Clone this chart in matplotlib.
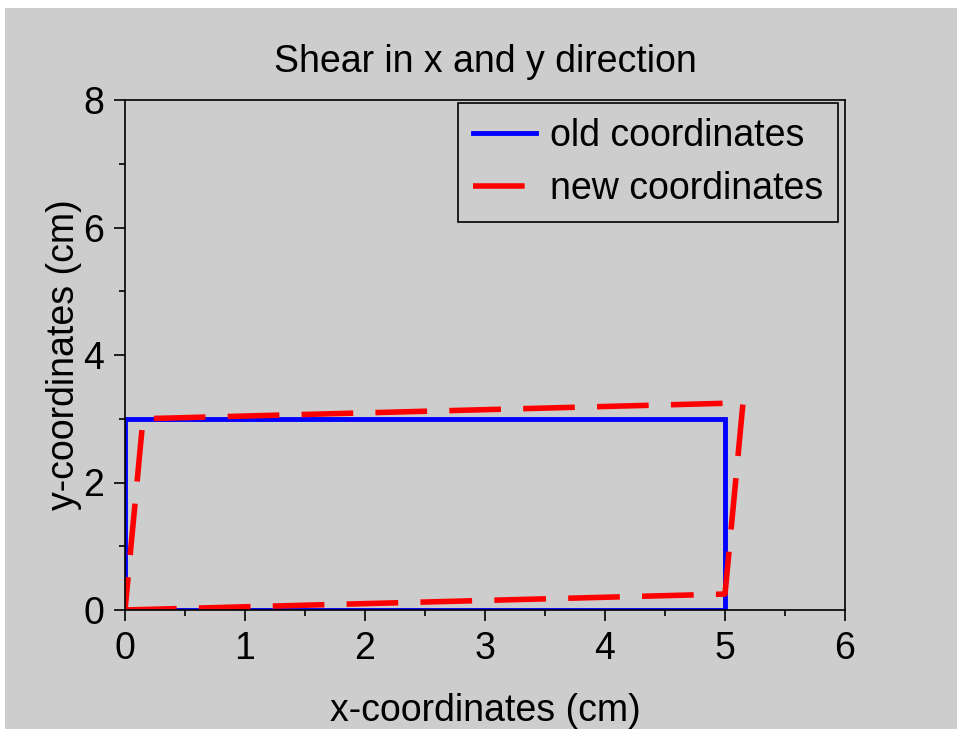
import matplotlib
matplotlib.use("Agg")
import matplotlib.pyplot as plt
from matplotlib.patches import Rectangle
from matplotlib.ticker import MultipleLocator

# Rectangle corners before the transformation
old_x = [0, 5, 5, 0, 0]
old_y = [0, 0, 3, 3, 0]
# Same corners after shearing in x and y
new_x = [0, 5, 5.15, 0.15, 0]
new_y = [0, 0.25, 3.25, 3, 0]

title = "Shear in x and y direction"
xlabel = "x-coordinates (cm)"
ylabel = "y-coordinates (cm)"
labels = ["old coordinates", "new coordinates"]

plt.rcParams["font.family"] = ["Liberation Sans", "DejaVu Sans"]
gray = "#cdcdcd"

W, H = 957, 729
fig = plt.figure(figsize=(W / 100, H / 100), dpi=100, facecolor="white")
fig.patches.append(Rectangle((5 / W, 0), 1 - 5 / W, 1 - 8 / H,
                             transform=fig.transFigure, facecolor=gray,
                             edgecolor="none", zorder=-10))

ax = fig.add_axes([125 / W, 1 - 610 / H, 720 / W, 510 / H])
ax.set_facecolor(gray)

ax.plot(old_x, old_y, color="#0000ff", lw=3.5, label=labels[0],
        solid_joinstyle="miter")
ax.plot(new_x, new_y, color="#ff0000", lw=4.0, dashes=(9.3, 4.0),
        label=labels[1])

ax.set_xlim(0, 6)
ax.set_ylim(0, 8)
ax.xaxis.set_major_locator(MultipleLocator(1))
ax.xaxis.set_minor_locator(MultipleLocator(0.5))
ax.yaxis.set_major_locator(MultipleLocator(2))
ax.yaxis.set_minor_locator(MultipleLocator(1))
ax.tick_params(which="major", direction="out", length=8, width=1.2,
               labelsize=27, pad=7, colors="black")
ax.tick_params(which="minor", direction="out", length=4, width=1.2)
for s in ax.spines.values():
    s.set_linewidth(1.2)

ax.set_title(title, fontsize=27, pad=20)
ax.set_xlabel(xlabel, fontsize=27, labelpad=19)
ax.set_ylabel(ylabel, fontsize=27, labelpad=1)

leg = ax.legend(loc="upper right", bbox_to_anchor=(0.990, 0.994),
                borderaxespad=0, fontsize=27, frameon=True, fancybox=False,
                framealpha=1, facecolor=gray, edgecolor="black",
                handlelength=1.7, handletextpad=0.35, borderpad=0.4,
                labelspacing=0.45)
leg.get_frame().set_linewidth(1.2)

fig.savefig("out.png", dpi=100, facecolor="white")
